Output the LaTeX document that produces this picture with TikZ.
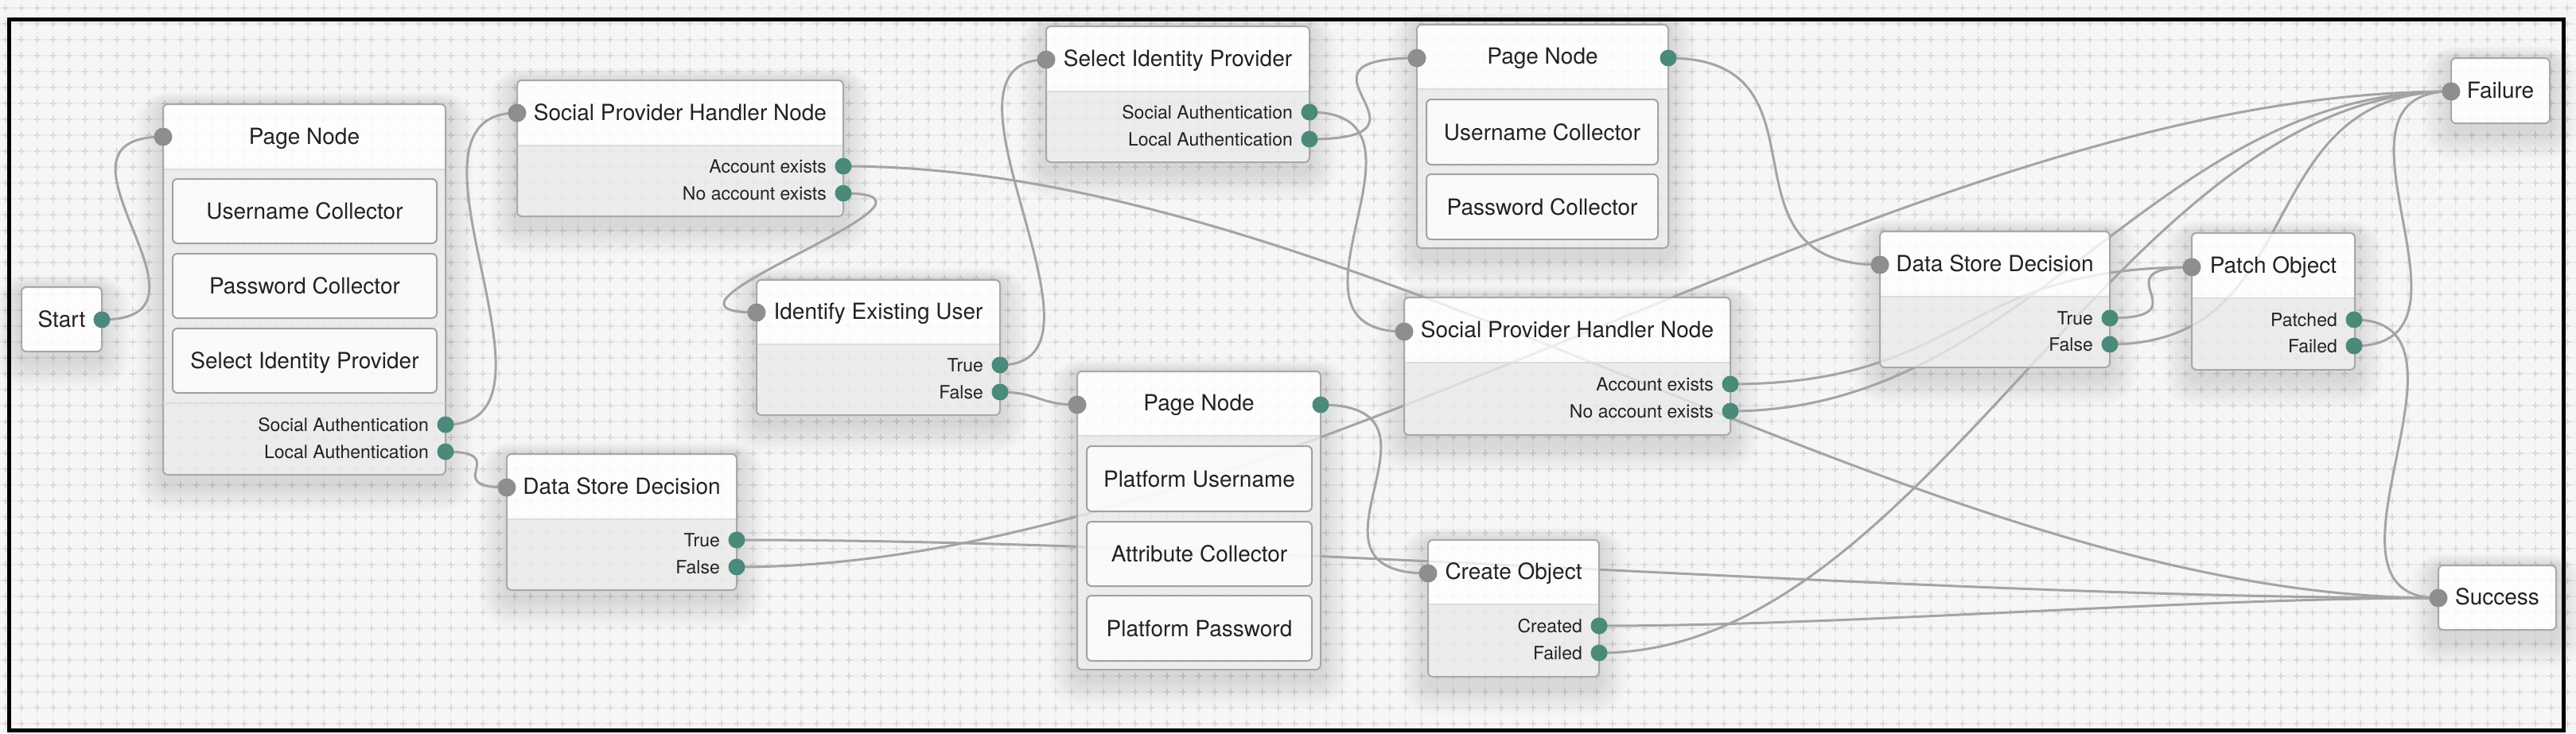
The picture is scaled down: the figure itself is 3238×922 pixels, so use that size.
\documentclass[tikz,border=0pt]{standalone}
\usepackage{fontspec}
\setmainfont{TeX Gyre Heros}
\usetikzlibrary{calc}
\pgfdeclarelayer{bg}
\pgfdeclarelayer{edges}
\pgfdeclarelayer{front}
\pgfsetlayers{bg,edges,main,front}
\definecolor{bgc}{HTML}{F6F6F6}
\definecolor{gridl}{HTML}{EDEDED}
\definecolor{gridp}{HTML}{DADADA}
\definecolor{edgec}{HTML}{A4A4A4}
\definecolor{borderc}{HTML}{A8A8A8}
\definecolor{sepc}{HTML}{DCDCDC}
\definecolor{bodyc}{HTML}{EAEAEA}
\definecolor{innerc}{HTML}{A2A2A2}
\definecolor{txtc}{HTML}{222222}
\definecolor{portg}{HTML}{4B8A7B}
\definecolor{portn}{HTML}{8E8E8E}
\newcommand\shd[4]{%
  \foreach \k in {1,...,10}{%
    \pgfmathsetmacro\rr{6+3.5*\k}%
    \fill[black, fill opacity=0.012, even odd rule, rounded corners=\rr bp]
      ({#1-3.5*\k},{#2-1.5*\k}) rectangle ({#3+3.5*\k},{#4+12+3.5*\k})
      [rounded corners=6bp] (#1,#2) rectangle (#3,#4);
  }}
\newcommand\flowbox[6]{%
  \begin{pgfonlayer}{bg}\shd{#2}{#3}{#4}{#5}\end{pgfonlayer}
  \begin{scope}
    \clip[rounded corners=6bp] (#2,#3) rectangle (#4,#5);
    \fill[white, fill opacity=0.8] (#2,#3) rectangle (#4,#6);
    \fill[bodyc, fill opacity=0.8] (#2,#6) rectangle (#4,#5);
  \end{scope}
  \draw[sepc, line width=2bp] (#2,#6) -- (#4,#6);
  \node[boxline, minimum width={(#4-#2)*1bp}, minimum height={(#5-#3)*1bp}] (#1) at ({(#2+#4)/2},{(#3+#5)/2}) {};
}
\newcommand\plainbox[5]{%
  \begin{pgfonlayer}{bg}\shd{#2}{#3}{#4}{#5}\end{pgfonlayer}
  \fill[white, fill opacity=0.8, rounded corners=6bp] (#2,#3) rectangle (#4,#5);
  \node[boxline, minimum width={(#4-#2)*1bp}, minimum height={(#5-#3)*1bp}] (#1) at ({(#2+#4)/2},{(#3+#5)/2}) {};
}
\newcommand\conn[2]{%
  \draw[conn] let \p1=(#1.center), \p2=(#2.center), \n1={0.25*abs(\x2-\x1)+min(1.5*abs(\y2-\y1),150.56)} in
    (#1.center) .. controls (\x1+\n1,\y1) and (\x2-\n1,\y2) .. (#2.center);}
\begin{document}
\begin{tikzpicture}[x=1bp,y=-1bp,
  conn/.style={draw=edgec, line width=3bp},
  inport/.style={circle, fill=portn, inner sep=0pt, outer sep=0pt, minimum size=23bp},
  outport/.style={circle, fill=portg, inner sep=0pt, outer sep=0pt, minimum size=21bp},
  boxline/.style={draw=borderc, line width=2bp, rounded corners=6bp, inner sep=0pt, outer sep=0pt},
  ttl/.style={font=\fontsize{28bp}{32bp}\selectfont, text=txtc, anchor=base, inner sep=0pt},
  lbl/.style={font=\fontsize{23bp}{27bp}\selectfont, text=txtc, anchor=base east, inner sep=0pt},
  ibox/.style={draw=innerc, line width=2bp, rounded corners=6bp, fill=white, fill opacity=0.75, text opacity=1, text=txtc, font=\fontsize{28bp}{32bp}\selectfont, text height=20bp, text depth=0bp, inner sep=0pt, outer sep=0pt}
]
\useasboundingbox (0,0) rectangle (3238,922);
\begin{pgfonlayer}{bg}
\begin{scope}
\clip (0,0) rectangle (3238,922);
\fill[bgc] (0,0) rectangle (3238,922);
\foreach \i in {0,...,161}{
  \draw[gridl, line width=1.5bp] ({6.7+20*\i},0) -- ({6.7+20*\i},922);
}
\foreach \j in {0,...,45}{
  \draw[gridl, line width=1.5bp] (0,{10+20*\j}) -- (3238,{10+20*\j});
}
\foreach \i in {0,...,161}{
  \draw[gridp, line width=2bp, dash pattern=on 8bp off 12bp] ({6.7+20*\i},-14) -- ({6.7+20*\i},930);
}
\foreach \j in {0,...,45}{
  \draw[gridp, line width=2bp, dash pattern=on 8bp off 12bp] (-17.3,{10+20*\j}) -- (3250,{10+20*\j});
}
\draw[black, line width=5bp] (11.7,24.8) -- (3222.5,24.8) -- (3222.5,918) -- (11.7,918) -- cycle;
\end{scope}
\end{pgfonlayer}

% ---------- boxes ----------
\plainbox{start}{27}{361}{128}{442}
\node[ttl] (startt) at (77.5,411) {Start};

\flowbox{page1}{205}{131}{560}{597}{213}
\draw[sepc, line width=2bp] (205,507) -- (560,507);
\node[ttl] (page1t) at (382.5,181) {Page Node};
\node[ibox, minimum width=332bp, minimum height=81bp] (page1u) at (383,265.5) {Username Collector};
\node[ibox, minimum width=332bp, minimum height=81bp] (page1p) at (383,359.5) {Password Collector};
\node[ibox, minimum width=332bp, minimum height=81bp] (page1s) at (383,453.5) {Select Identity Provider};
\node[lbl] (page1socl) at (539,542) {Social Authentication};
\node[lbl] (page1locl) at (539,576) {Local Authentication};

\flowbox{sph1}{650}{101}{1060}{272}{183}
\node[ttl] (sph1t) at (855,151) {Social Provider Handler Node};
\node[lbl] (sph1accl) at (1039,217) {Account exists};
\node[lbl] (sph1nol) at (1039,251) {No account exists};

\flowbox{ieu}{951}{352}{1257}{522}{433}
\node[ttl] (ieut) at (1104,401.5) {Identify Existing User};
\node[lbl] (ieutl) at (1236,467) {True};
\node[lbl] (ieufl) at (1236,501) {False};

\flowbox{dsd1}{637}{571}{926}{742}{653}
\node[ttl] (dsd1t) at (781.5,621) {Data Store Decision};
\node[lbl] (dsd1tl) at (905,687) {True};
\node[lbl] (dsd1fl) at (905,721) {False};

\flowbox{sip}{1315}{33}{1646}{204}{115}
\node[ttl] (sipt) at (1480.5,83) {Select Identity Provider};
\node[lbl] (sipsocl) at (1625,149) {Social Authentication};
\node[lbl] (siplocl) at (1625,183) {Local Authentication};

\flowbox{page2}{1781}{31}{2097}{312}{112}
\node[ttl] (page2t) at (1939,80.5) {Page Node};
\node[ibox, minimum width=291bp, minimum height=82bp] (page2u) at (1938.5,166) {Username Collector};
\node[ibox, minimum width=291bp, minimum height=82bp] (page2p) at (1938.5,260) {Password Collector};

\flowbox{sph2}{1765}{374}{2175}{547}{456}
\node[ttl] (sph2t) at (1970,424) {Social Provider Handler Node};
\node[lbl] (sph2accl) at (2154,491) {Account exists};
\node[lbl] (sph2nol) at (2154,525) {No account exists};

\flowbox{page3}{1354}{467}{1660}{842}{548}
\node[ttl] (page3t) at (1507,516.5) {Page Node};
\node[ibox, minimum width=283bp, minimum height=82bp] (page3u) at (1507.5,602) {Platform Username};
\node[ibox, minimum width=283bp, minimum height=81bp] (page3a) at (1507.5,696.5) {Attribute Collector};
\node[ibox, minimum width=283bp, minimum height=82bp] (page3p) at (1507.5,790) {Platform Password};

\flowbox{co}{1795}{679}{2010}{851}{760}
\node[ttl] (cot) at (1902.5,728.5) {Create Object};
\node[lbl] (cocl) at (1989,795) {Created};
\node[lbl] (cofl) at (1989,829) {Failed};

\flowbox{dsd2}{2363}{291}{2652}{462}{373}
\node[ttl] (dsd2t) at (2507.5,341) {Data Store Decision};
\node[lbl] (dsd2tl) at (2631,408) {True};
\node[lbl] (dsd2fl) at (2631,441) {False};

\flowbox{patch}{2755}{293}{2960}{465}{375}
\node[ttl] (patcht) at (2857.5,343) {Patch Object};
\node[lbl] (patchokl) at (2938,410) {Patched};
\node[lbl] (patchfl) at (2938,443) {Failed};

\plainbox{failure}{3081}{73}{3205}{155}
\node[ttl] (failuret) at (3143,123) {Failure};

\plainbox{success}{3065}{711}{3213}{792}
\node[ttl] (successt) at (3139,760.5) {Success};

% ---------- ports ----------
\begin{pgfonlayer}{front}
\node[outport] (startout) at (128,402) {};
\node[inport] (p1in) at (205,172) {};
\node[outport] (p1soc) at (560,534) {};
\node[outport] (p1loc) at (560,568) {};
\node[inport] (sph1in) at (650,142) {};
\node[outport] (sph1acc) at (1060,209) {};
\node[outport] (sph1no) at (1060,243) {};
\node[inport] (ieuin) at (951,393) {};
\node[outport] (ieutrue) at (1257,459) {};
\node[outport] (ieufalse) at (1257,493) {};
\node[inport] (dsd1in) at (637,613) {};
\node[outport] (dsd1true) at (926,679) {};
\node[outport] (dsd1false) at (926,713) {};
\node[inport] (sipin) at (1315,75) {};
\node[outport] (sipsoc) at (1646,141) {};
\node[outport] (siploc) at (1646,175) {};
\node[inport] (p2in) at (1781,73) {};
\node[outport] (p2out) at (2097,73) {};
\node[inport] (sph2in) at (1765,417) {};
\node[outport] (sph2acc) at (2175,483) {};
\node[outport] (sph2no) at (2175,517) {};
\node[inport] (p3in) at (1354,509) {};
\node[outport] (p3out) at (1660,509) {};
\node[inport] (coin) at (1795,721) {};
\node[outport] (cocreated) at (2010,787) {};
\node[outport] (cofailed) at (2010,821) {};
\node[inport] (dsd2in) at (2363,333) {};
\node[outport] (dsd2true) at (2652,400) {};
\node[outport] (dsd2false) at (2652,433) {};
\node[inport] (patchin) at (2755,336) {};
\node[outport] (patchok) at (2959,402) {};
\node[outport] (patchfail) at (2959,435) {};
\node[inport] (failin) at (3081,115) {};
\node[inport] (succin) at (3065,752) {};
\end{pgfonlayer}

% ---------- connectors ----------
\begin{pgfonlayer}{edges}
\conn{startout}{p1in}
\conn{p1soc}{sph1in}
\conn{p1loc}{dsd1in}
\conn{sph1acc}{succin}
\conn{sph1no}{ieuin}
\conn{ieutrue}{sipin}
\conn{ieufalse}{p3in}
\conn{sipsoc}{sph2in}
\conn{siploc}{p2in}
\conn{p2out}{dsd2in}
\conn{p3out}{coin}
\conn{dsd1true}{succin}
\conn{dsd1false}{failin}
\conn{sph2acc}{patchin}
\conn{sph2no}{failin}
\conn{dsd2true}{patchin}
\conn{dsd2false}{failin}
\conn{patchok}{succin}
\conn{patchfail}{failin}
\conn{cocreated}{succin}
\conn{cofailed}{failin}
\end{pgfonlayer}
\end{tikzpicture}
\end{document}
